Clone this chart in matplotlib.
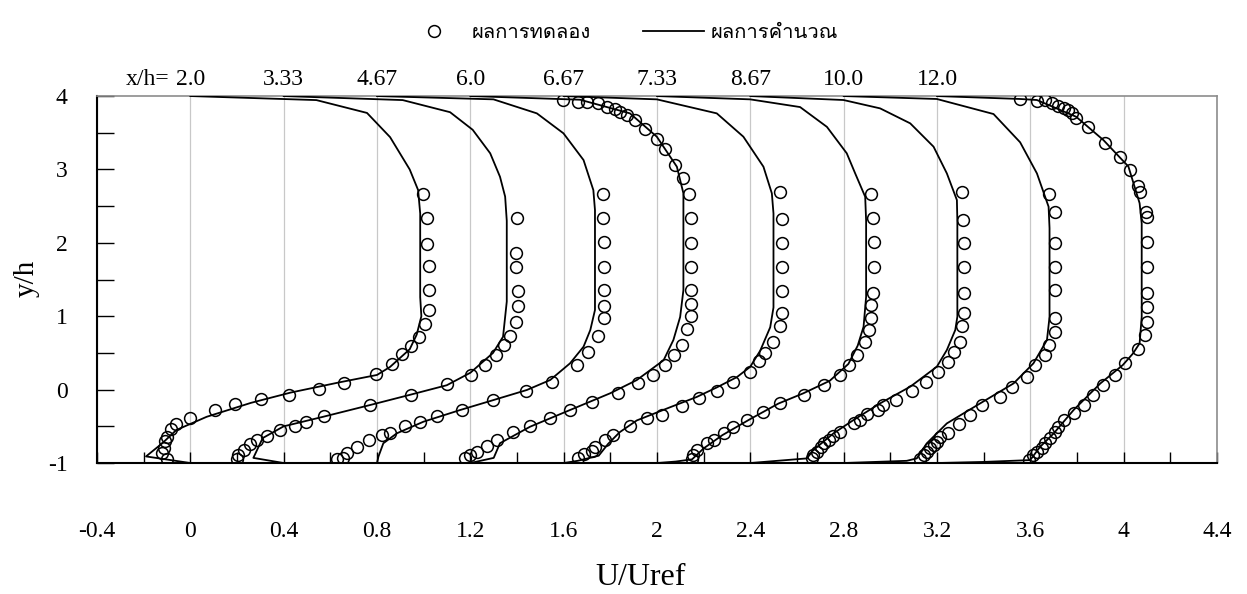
import numpy as np
import matplotlib
matplotlib.use('Agg')
import matplotlib.pyplot as plt
from matplotlib import font_manager
from matplotlib.ft2font import FT2Font
from matplotlib.lines import Line2D
from matplotlib.ticker import MultipleLocator, FuncFormatter

# ---- data (U/Uref without shift, y/h) ----
profile_shift = [0.0, 0.4, 0.8, 1.2, 1.6, 2.0, 2.4, 2.8, 3.2]
xh_labels = ['2.0', '3.33', '4.67', '6.0', '6.67', '7.33', '8.67', '10.0', '12.0']
legend_labels = ['ผลการทดลอง', 'ผลการคำนวณ']

# calculated profiles (lines)
calc_u0 = [0.0, 0.54, 0.757, 0.856, 0.94, 0.976, 0.985, 0.985, 0.99, 0.97, 0.94, 0.856, 0.80, 0.64, 0.43, 0.26, 0.07, -0.06, -0.12, -0.19, 0.0]
calc_y0 = [4.0, 3.945, 3.77, 3.44, 3.0, 2.72, 2.4, 1.26, 1.0, 0.75, 0.55, 0.31, 0.20, 0.10, -0.04, -0.18, -0.37, -0.55, -0.73, -0.91, -1.0]
calc_u1 = [0.0, 0.51, 0.713, 0.81, 0.885, 0.927, 0.949, 0.956, 0.956, 0.94, 0.897, 0.80, 0.699, 0.542, 0.37, 0.169, 0.0, -0.09, -0.13, 0.0]
calc_y1 = [4.0, 3.945, 3.78, 3.54, 3.22, 2.9, 2.63, 2.3, 1.2, 0.72, 0.50, 0.23, 0.06, -0.07, -0.21, -0.37, -0.5, -0.66, -0.93, -1.0]
calc_u2 = [0.0, 0.499, 0.685, 0.799, 0.885, 0.927, 0.934, 0.934, 0.914, 0.885, 0.827, 0.742, 0.642, 0.499, 0.356, 0.199, 0.085, 0.027, 0.006, 0.0]
calc_y2 = [4.0, 3.955, 3.764, 3.492, 3.128, 2.719, 2.447, 1.085, 0.812, 0.585, 0.358, 0.131, -0.005, -0.142, -0.278, -0.437, -0.595, -0.731, -0.913, -1.0]
calc_u3 = [0.0, 0.47, 0.684, 0.799, 0.885, 0.913, 0.913, 0.899, 0.87, 0.828, 0.713, 0.599, 0.427, 0.256, 0.127, 0.10, 0.0]
calc_y3 = [4.0, 3.95, 3.764, 3.446, 3.037, 2.674, 1.357, 0.99, 0.676, 0.40, 0.13, -0.05, -0.278, -0.505, -0.73, -0.93, -1.0]
calc_u4 = [0.0, 0.399, 0.656, 0.77, 0.856, 0.892, 0.899, 0.899, 0.885, 0.842, 0.799, 0.742, 0.656, 0.57, 0.456, 0.313, 0.24, 0.19, 0.15, 0.06, 0.0]
calc_y4 = [4.0, 3.955, 3.764, 3.446, 3.037, 2.674, 2.4, 1.12, 0.85, 0.53, 0.31, 0.17, 0.03, -0.10, -0.24, -0.42, -0.58, -0.74, -0.90, -0.97, -1.0]
calc_u5 = [0.0, 0.399, 0.613, 0.728, 0.813, 0.849, 0.892, 0.896, 0.896, 0.885, 0.86, 0.82, 0.74, 0.627, 0.52, 0.40, 0.28, 0.20, 0.15, 0.08, 0.0]
calc_y5 = [4.0, 3.955, 3.85, 3.58, 3.22, 2.947, 2.628, 2.3, 1.266, 0.857, 0.6, 0.35, 0.12, -0.05, -0.19, -0.40, -0.62, -0.80, -0.95, -0.98, -1.0]
calc_u6 = [0.0, 0.399, 0.556, 0.685, 0.785, 0.842, 0.885, 0.887, 0.887, 0.878, 0.842, 0.799, 0.685, 0.556, 0.442, 0.356, 0.27, 0.242, 0.0]
calc_y6 = [4.0, 3.946, 3.832, 3.628, 3.31, 2.946, 2.583, 2.3, 0.994, 0.812, 0.54, 0.312, 0.04, -0.187, -0.414, -0.596, -0.823, -0.937, -1.0]
calc_u7 = [0.0, 0.399, 0.642, 0.756, 0.828, 0.878, 0.882, 0.882, 0.871, 0.813, 0.728, 0.585, 0.442, 0.356, 0.313, 0.27, 0.0]
calc_y7 = [4.0, 3.96, 3.755, 3.37, 2.946, 2.492, 2.2, 0.99, 0.676, 0.358, 0.085, -0.187, -0.46, -0.732, -0.937, -0.97, -1.0]
calc_u8 = [0.0, 0.356, 0.428, 0.596, 0.713, 0.82, 0.868, 0.877, 0.877, 0.868, 0.839, 0.796, 0.70, 0.585, 0.50, 0.442, 0.399, 0.2, 0.0]
calc_y8 = [4.0, 3.96, 3.946, 3.718, 3.40, 3.04, 2.54, 2.266, 0.99, 0.63, 0.49, 0.335, 0.085, -0.278, -0.596, -0.778, -0.96, -0.985, -1.0]

# experimental profiles (circles)
exp_u0 = [0.996, 1.015, 1.015, 1.023, 1.023, 1.023, 1.006, 0.98, 0.944, 0.909, 0.866, 0.796, 0.659, 0.553, 0.424, 0.304, 0.19, 0.106, 0.0, -0.06, -0.083, -0.10, -0.11, -0.115, -0.12, -0.10]
exp_y0 = [2.67, 2.34, 1.99, 1.68, 1.36, 1.09, 0.90, 0.72, 0.60, 0.48, 0.35, 0.21, 0.09, 0.01, -0.08, -0.13, -0.19, -0.28, -0.39, -0.47, -0.54, -0.64, -0.70, -0.80, -0.87, -0.95]
exp_u1 = [0.999, 0.996, 0.996, 1.003, 1.003, 0.996, 0.97, 0.942, 0.91, 0.863, 0.803, 0.699, 0.544, 0.37, 0.173, 0.096, 0.049, -0.015, -0.073, -0.115, -0.144, -0.17, -0.195, -0.201]
exp_y1 = [2.34, 1.86, 1.675, 1.35, 1.14, 0.925, 0.73, 0.61, 0.47, 0.335, 0.20, 0.07, -0.07, -0.21, -0.36, -0.44, -0.50, -0.55, -0.63, -0.69, -0.74, -0.82, -0.89, -0.95]
exp_u2 = [0.968, 0.968, 0.973, 0.973, 0.973, 0.973, 0.973, 0.949, 0.906, 0.856, 0.749, 0.639, 0.496, 0.363, 0.256, 0.184, 0.12, 0.056, 0.02, -0.033, -0.087, -0.13, -0.144, -0.173]
exp_y2 = [2.665, 2.342, 2.016, 1.675, 1.357, 1.139, 0.971, 0.73, 0.517, 0.335, 0.108, -0.014, -0.142, -0.278, -0.36, -0.437, -0.496, -0.596, -0.619, -0.687, -0.778, -0.869, -0.937, -0.95]
exp_u3 = [0.399, 0.463, 0.499, 0.549, 0.585, 0.62, 0.642, 0.67, 0.706, 0.749, 0.799, 0.835, 0.877, 0.913, 0.938,
          0.945, 0.945, 0.945, 0.945, 0.945, 0.945, 0.927, 0.906, 0.873, 0.835, 0.782, 0.72, 0.634, 0.52, 0.427,
          0.342, 0.256, 0.184, 0.113, 0.07, 0.027, -0.001, -0.023]
exp_y3 = [3.946, 3.923, 3.914, 3.90, 3.846, 3.818, 3.787, 3.741, 3.673, 3.55, 3.41, 3.278, 3.06, 2.879, 2.665,
          2.342, 1.993, 1.675, 1.357, 1.166, 1.003, 0.821, 0.608, 0.471, 0.335, 0.199, 0.085, -0.043, -0.174, -0.278,
          -0.392, -0.496, -0.574, -0.687, -0.768, -0.854, -0.891, -0.937]
exp_u4 = [0.928, 0.935, 0.935, 0.935, 0.935, 0.935, 0.928, 0.899, 0.863, 0.835, 0.799, 0.727, 0.656, 0.578, 0.506, 0.42, 0.356, 0.285, 0.213, 0.177, 0.135, 0.12, 0.085, 0.063]
exp_y4 = [2.697, 2.32, 1.993, 1.675, 1.348, 1.048, 0.867, 0.653, 0.494, 0.394, 0.244, 0.108, -0.014, -0.119, -0.224, -0.346, -0.392, -0.496, -0.619, -0.687, -0.778, -0.837, -0.882, -0.937]
exp_u5 = [0.918, 0.925, 0.928, 0.928, 0.925, 0.918, 0.918, 0.909, 0.892, 0.856, 0.823, 0.782, 0.716, 0.628, 0.528, 0.456, 0.385, 0.327, 0.285, 0.242, 0.213, 0.171, 0.156, 0.149]
exp_y5 = [2.665, 2.342, 2.016, 1.675, 1.321, 1.153, 0.971, 0.812, 0.653, 0.471, 0.335, 0.199, 0.063, -0.074, -0.187, -0.301, -0.415, -0.505, -0.596, -0.687, -0.733, -0.823, -0.891, -0.95]
exp_u6 = [0.909, 0.913, 0.916, 0.916, 0.916, 0.916, 0.909, 0.899, 0.873, 0.849, 0.802, 0.753, 0.692, 0.625, 0.57, 0.545, 0.499, 0.468, 0.442, 0.382, 0.356, 0.335, 0.316, 0.302, 0.285, 0.27, 0.263]
exp_y6 = [2.687, 2.31, 1.993, 1.675, 1.321, 1.048, 0.867, 0.653, 0.517, 0.381, 0.244, 0.108, -0.014, -0.142, -0.21, -0.278, -0.332, -0.414, -0.46, -0.574, -0.632, -0.687, -0.732, -0.778, -0.846, -0.891, -0.937]
exp_u7 = [0.878, 0.906, 0.906, 0.906, 0.906, 0.906, 0.906, 0.878, 0.863, 0.821, 0.785, 0.723, 0.671, 0.592, 0.542, 0.492, 0.449, 0.413, 0.399, 0.385, 0.371, 0.356, 0.342, 0.325]
exp_y7 = [2.665, 2.415, 1.993, 1.675, 1.357, 0.98, 0.79, 0.608, 0.471, 0.335, 0.176, 0.04, -0.096, -0.21, -0.346, -0.469, -0.587, -0.641, -0.709, -0.755, -0.8, -0.846, -0.891, -0.95]
exp_u8 = [0.356, 0.428, 0.463, 0.492, 0.52, 0.542, 0.563, 0.578, 0.596, 0.649, 0.721, 0.782, 0.825, 0.861, 0.868, 0.896,
          0.899, 0.899, 0.899, 0.899, 0.899, 0.899, 0.892, 0.859, 0.806, 0.763, 0.713, 0.67, 0.628, 0.585,
          0.542, 0.52, 0.506, 0.485, 0.463, 0.449, 0.428, 0.413, 0.396]
exp_y8 = [3.959, 3.928, 3.941, 3.90, 3.864, 3.832, 3.809, 3.773, 3.696, 3.573, 3.355, 3.164, 2.992, 2.774, 2.697, 2.424,
          2.356, 2.016, 1.675, 1.321, 1.13, 0.926, 0.744, 0.549, 0.358, 0.199, 0.063, -0.074, -0.21, -0.323,
          -0.414, -0.505, -0.573, -0.664, -0.732, -0.8, -0.846, -0.891, -0.96]

calc_u = [calc_u0, calc_u1, calc_u2, calc_u3, calc_u4, calc_u5, calc_u6, calc_u7, calc_u8]
calc_y = [calc_y0, calc_y1, calc_y2, calc_y3, calc_y4, calc_y5, calc_y6, calc_y7, calc_y8]
exp_u = [exp_u0, exp_u1, exp_u2, exp_u3, exp_u4, exp_u5, exp_u6, exp_u7, exp_u8]
exp_y = [exp_y0, exp_y1, exp_y2, exp_y3, exp_y4, exp_y5, exp_y6, exp_y7, exp_y8]


# busca una fuente instalada que tenga glifos tailandeses
def find_thai_font():
    for entry in font_manager.fontManager.ttflist:
        try:
            if 0x0E1C in FT2Font(entry.fname).get_charmap():
                return entry.name
        except Exception:
            continue
    return None


thai_font = find_thai_font()
families = ['Liberation Serif'] + ([thai_font] if thai_font else []) + ['DejaVu Sans']
plt.rcParams['font.family'] = families
plt.rcParams['axes.unicode_minus'] = False

fig = plt.figure(figsize=(12.47, 5.94), dpi=100)
ax = fig.add_axes([0.0778, 0.2205, 0.8982, 0.6178])

for i in range(len(profile_shift)):
    ax.plot(np.array(calc_u[i]) + profile_shift[i], calc_y[i], color='black', lw=1.3, zorder=3)
    ax.plot(np.array(exp_u[i]) + profile_shift[i], exp_y[i], linestyle='none', marker='o',
            ms=8.5, mfc='none', mec='black', mew=1.1, zorder=4)

ax.set_xlim(-0.4, 4.4)
ax.set_ylim(-1, 4)

ax.xaxis.set_major_locator(MultipleLocator(0.4))
ax.xaxis.set_minor_locator(MultipleLocator(0.2))
ax.xaxis.set_major_formatter(FuncFormatter(lambda v, p: f'{round(v, 1):g}'))
ax.yaxis.set_major_locator(MultipleLocator(1))
ax.yaxis.set_minor_locator(MultipleLocator(0.5))
ax.tick_params(axis='x', which='both', direction='in', length=8, width=1, pad=42, labelsize=17)
ax.tick_params(axis='y', which='both', direction='in', length=12, width=1, pad=21, labelsize=17)

ax.grid(axis='x', which='major', color='#c8c8c8', lw=0.9, zorder=0)
for side in ['left', 'bottom']:
    ax.spines[side].set_color('black')
    ax.spines[side].set_linewidth(1.5)
for side in ['top', 'right']:
    ax.spines[side].set_color('#8c8c8c')
    ax.spines[side].set_linewidth(1.2)

ax.set_xlabel('U/Uref', fontsize=23, va='center')
ax.xaxis.set_label_coords(0.485, -0.313)
ax.set_ylabel('y/h', fontsize=21, va='center')
ax.yaxis.set_label_coords(-0.0625, 0.504)

# etiquetas x/h sobre cada perfil
top_tr = ax.get_xaxis_transform()
for i, lab in enumerate(xh_labels):
    ax.text(profile_shift[i], 1.044, lab, transform=top_tr, ha='center', va='center', fontsize=17)
ax.text(-0.091, 1.044, 'x/h=', transform=top_tr, ha='right', va='center', fontsize=17)

handles = [Line2D([], [], linestyle='none', marker='o', ms=8.5, mfc='none', mec='black', mew=1.1),
           Line2D([], [], color='black', lw=1.3)]
fig.legend(handles, legend_labels, loc='center', bbox_to_anchor=(0.498, 0.946), ncol=2, frameon=False,
           prop={'family': families[1:], 'size': 14.5}, handlelength=3.0, handletextpad=0.35, columnspacing=2.6)

fig.savefig('out.png', dpi=100)
